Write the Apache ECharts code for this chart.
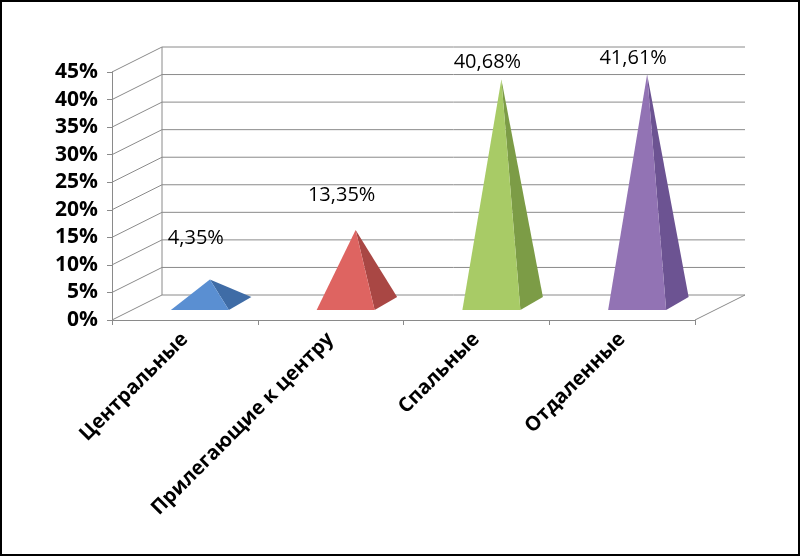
<!DOCTYPE html>
<html>
<head>
<meta charset="utf-8">
<script src="https://cdn.jsdelivr.net/npm/echarts@6/dist/echarts.min.js"></script>
<style>
  html, body { margin: 0; padding: 0; background: #fff; }
  #chart { width: 796px; height: 552px; border: 2px solid #000; }
</style>
</head>
<body>
<div id="chart"></div>
<script>
const categories = ["Центральные", "Прилегающие к центру", "Спальные", "Отдаленные"];
const values = [4.35, 13.35, 40.68, 41.61];
const yTicks = [0, 5, 10, 15, 20, 25, 30, 35, 40, 45];

const faceColors = [
  ["#5A8FD2", "#3F6CA6"],
  ["#DE6461", "#A94744"],
  ["#A8CB66", "#7C9C46"],
  ["#9273B4", "#6C5392"],
];

// 3D depth offset of the back wall
const DX = 50, DY = -25;

const chart = echarts.init(document.getElementById("chart"));

function wallsItem(params, api) {
  const children = [];
  const line = (x1, y1, x2, y2) => children.push({
    type: "line", shape: { x1, y1, x2, y2 },
    style: { stroke: "#8a8a8a", lineWidth: 1 }, silent: true,
  });
  const left = api.coord([0, 0])[0] - params.coordSys.width / categories.length / 2;
  const right = left + params.coordSys.width;
  yTicks.forEach((t) => {
    const y = api.coord([0, t])[1];
    line(left, y, left + DX, y + DY);
    line(left + DX, y + DY, right + DX, y + DY);
  });
  const y0 = api.coord([0, 0])[1];
  const yTop = api.coord([0, 45])[1];
  line(left + DX, y0 + DY, left + DX, yTop + DY);
  line(right, y0, right + DX, y0 + DY);
  return { type: "group", children };
}

function pyramidItem(params, api) {
  const i = api.value(0), v = api.value(1);
  const base = api.coord([i, 0]);
  const top = api.coord([i, v]);
  const hw = 29;
  const fl = [base[0] + DX * 0.3 - hw, base[1] + DY * 0.4];
  const fr = [base[0] + DX * 0.3 + hw, base[1] + DY * 0.4];
  const br = [base[0] + DX * 0.75 + hw, base[1] + DY * 0.92];
  const apex = [top[0] + DX * 0.5, top[1] + DY * 0.66];
  const c = faceColors[i];
  const labelY = apex[1] - 30 * (1 - v / 45) - 4;
  return {
    type: "group",
    children: [
      { type: "polygon", shape: { points: [fr, br, apex] }, style: { fill: c[1] } },
      { type: "polygon", shape: { points: [fl, fr, apex] }, style: { fill: c[0] } },
      {
        type: "text",
        x: apex[0] - 14, y: labelY,
        style: {
          text: v.toFixed(2).replace(".", ",") + "%",
          fill: "#000", font: "20px 'Open Sans', sans-serif",
          align: "center", verticalAlign: "bottom",
        },
      },
    ],
  };
}

chart.setOption({
  animation: false,
  grid: { left: 110, right: 103, top: 70, bottom: 234 },
  xAxis: {
    type: "category",
    data: categories,
    axisLine: { lineStyle: { color: "#8a8a8a" } },
    axisTick: { show: true, length: 5, lineStyle: { color: "#8a8a8a" } },
    axisLabel: {
      rotate: 45, interval: 0, margin: 16,
      color: "#000", fontWeight: "bold", fontSize: 20,
      fontFamily: "'Open Sans', sans-serif",
    },
  },
  yAxis: {
    type: "value", min: 0, max: 45, interval: 5,
    axisLine: { show: true, lineStyle: { color: "#8a8a8a" } },
    axisTick: { show: true, length: 5, lineStyle: { color: "#8a8a8a" } },
    splitLine: { show: false },
    axisLabel: {
      formatter: "{value}%", color: "#000", fontWeight: "bold", fontSize: 21,
      fontFamily: "'Open Sans', sans-serif", margin: 14,
    },
  },
  series: [
    { type: "custom", renderItem: wallsItem, data: [[0, 0]], silent: true, z: 1 },
    {
      type: "custom", renderItem: pyramidItem, z: 2,
      data: values.map((v, i) => [i, v]),
    },
  ],
});
</script>
</body>
</html>
